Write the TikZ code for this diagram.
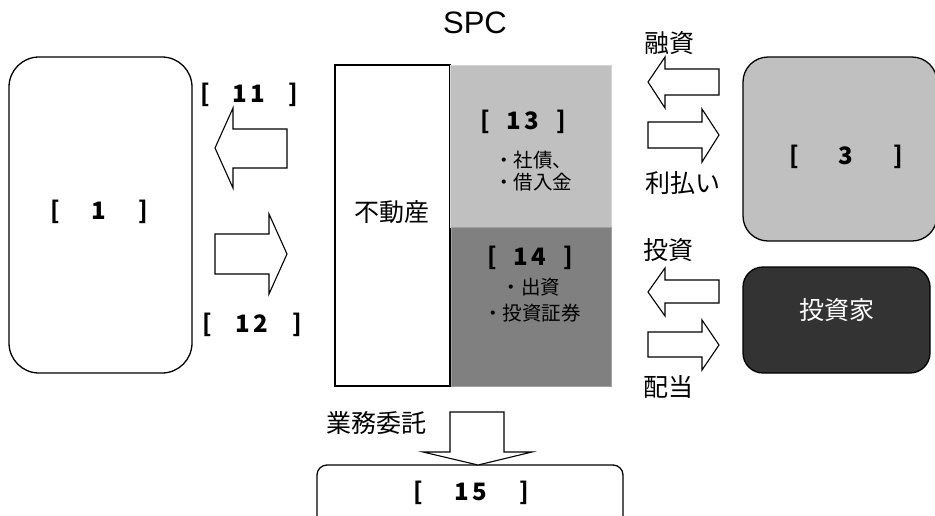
\documentclass[tikz,border=0pt]{standalone}
\usepackage{fontspec}
\setmainfont{Liberation Sans}
\newfontfamily\jp{Noto Sans CJK JP}
\definecolor{lgray}{HTML}{C0C0C0}
\definecolor{dgray}{HTML}{808080}
\definecolor{vdark}{HTML}{333333}
\newcommand{\brk}[2]{\makebox[#1pt]{[\hfill#2\hfill]}}
\newcommand{\dd}{\hspace{3pt}}
\begin{document}
\begin{tikzpicture}[x=1pt,y=-1pt,
  outline/.style={draw=black,line width=1.3pt},
  blockarrow/.style={draw=black,line width=1.1pt,fill=white,line join=miter},
  jtext/.style={font=\jp\fontsize{25}{28}\selectfont,inner sep=0pt},
  jsmall/.style={font=\jp\fontsize{19.5}{22}\selectfont,inner sep=0pt},
  brlabel/.style={font=\jp\bfseries\fontsize{24}{28}\selectfont,inner sep=0pt}]
\useasboundingbox (0,0) rectangle (935,515);
\clip (0,0) rectangle (935,515);
% left box
\draw[outline,rounded corners=30pt] (9,57) rectangle (192,373);
\node[brlabel] (l1) at (99,212) {\brk{98}{1}};
% arrows between left box and SPC
\draw[blockarrow] (215,148) -- (233,108) -- (233,129) -- (287,129) -- (287,168) -- (233,168) -- (233,188) -- cycle;
\draw[blockarrow] (287,254) -- (269,214) -- (269,234) -- (215,234) -- (215,274) -- (269,274) -- (269,294) -- cycle;
\node[brlabel] (l11) at (249,95) {\brk{98}{1\dd1}};
\node[brlabel] (l12) at (252,325) {\brk{100}{1\dd2}};
% SPC
\node[font=\fontsize{31}{34}\selectfont,inner sep=0pt] (spc) at (475,23) {SPC};
\draw[outline,fill=white] (335,65) rectangle (450,386);
\fill[lgray] (450,65) rectangle (611,227);
\draw[draw=lgray!70!white,line width=0.8pt] (450.5,65) rectangle (611,227);
\fill[dgray] (451,227) rectangle (611,386);
\draw[draw=dgray!75!white,line width=0.8pt] (451,227) rectangle (611,386);
\node[jtext] (fudosan) at (392,212) {不動産};
\node[brlabel] (l13) at (523,122) {\brk{86}{1\dd3}};
\node[jsmall] (shasai) at (533,160) {・社債、};
\node[jsmall] (kariire) at (533,182) {・借入金};
\node[brlabel] (l14) at (530,258) {\brk{86}{1\dd4}};
\node[jsmall] (shusshi) at (531,287) {・出資};
\node[jsmall] (shoken) at (532,313) {・投資証券};
% right boxes
\draw[outline,fill=lgray,rounded corners=25pt] (743,57) rectangle (937,241);
\node[brlabel] (l3) at (846,157) {\brk{114}{3}};
\draw[outline,fill=vdark,rounded corners=20pt] (743,267) rectangle (930,373);
\node[jtext,text=white] (toshika) at (837,310) {投資家};
% right arrows
\draw[blockarrow] (648,82) -- (665,57) -- (665,69) -- (719,69) -- (719,95) -- (665,95) -- (665,108) -- cycle;
\draw[blockarrow] (719,135) -- (702,109) -- (702,122) -- (648,122) -- (648,148) -- (702,148) -- (702,162) -- cycle;
\draw[blockarrow] (648,292) -- (665,268) -- (665,280) -- (719,280) -- (719,303) -- (665,303) -- (665,316) -- cycle;
\draw[blockarrow] (719,345) -- (702,320) -- (702,332) -- (648,332) -- (648,357) -- (702,357) -- (702,370) -- cycle;
\node[jtext] (yushi) at (669,43) {融資};
\node[jtext] (haraI) at (683,183) {利払い};
\node[jtext] (toshi) at (668,250) {投資};
\node[jtext] (haito) at (668,387) {配当};
% bottom
\node[jtext] (itaku) at (376,423) {業務委託};
\draw[outline,rounded corners=10pt] (317,465) rectangle (623,540);
\draw[blockarrow] (478,465) -- (423,452) -- (450,452) -- (450,412) -- (504,412) -- (504,452) -- (532,452) -- cycle;
\node[brlabel] (l15) at (471,493) {\brk{116}{1\dd5}};
\end{tikzpicture}
\end{document}
